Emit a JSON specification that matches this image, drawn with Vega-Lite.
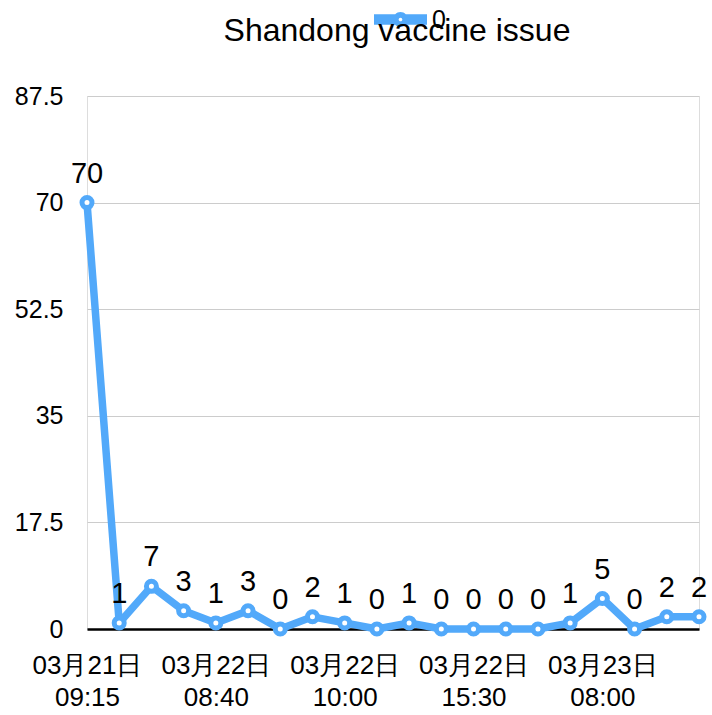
{
  "$schema": "https://vega.github.io/schema/vega-lite/v6.json",
  "autosize": {"type": "none"},
  "padding": {"left": 87, "top": 96, "right": 13, "bottom": 86},
  "width": 612,
  "height": 533,
  "background": "white",
  "title": {
    "text": "Shandong vaccine issue",
    "font": "Liberation Sans",
    "fontSize": 32,
    "fontWeight": "normal",
    "color": "black",
    "anchor": "middle",
    "frame": "group",
    "offset": 48,
    "dx": 4,
    "dy": 103
  },
  "data": {
    "values": [
      {"i": 0, "v": 70, "series": "0"},
      {"i": 1, "v": 1, "series": "0"},
      {"i": 2, "v": 7, "series": "0"},
      {"i": 3, "v": 3, "series": "0"},
      {"i": 4, "v": 1, "series": "0"},
      {"i": 5, "v": 3, "series": "0"},
      {"i": 6, "v": 0, "series": "0"},
      {"i": 7, "v": 2, "series": "0"},
      {"i": 8, "v": 1, "series": "0"},
      {"i": 9, "v": 0, "series": "0"},
      {"i": 10, "v": 1, "series": "0"},
      {"i": 11, "v": 0, "series": "0"},
      {"i": 12, "v": 0, "series": "0"},
      {"i": 13, "v": 0, "series": "0"},
      {"i": 14, "v": 0, "series": "0"},
      {"i": 15, "v": 1, "series": "0"},
      {"i": 16, "v": 5, "series": "0"},
      {"i": 17, "v": 0, "series": "0"},
      {"i": 18, "v": 2, "series": "0"},
      {"i": 19, "v": 2, "series": "0"}
    ]
  },
  "encoding": {
    "x": {
      "field": "i",
      "type": "ordinal",
      "scale": {"type": "point", "padding": 0},
      "axis": {
        "title": null,
        "values": [0, 4, 8, 12, 16],
        "labelExpr": "[['03月21日','09:15'],['03月22日','08:40'],['03月22日','10:00'],['03月22日','15:30'],['03月23日','08:00']][datum.value / 4]",
        "labelAngle": 0,
        "labelFont": "Liberation Sans",
        "labelFontSize": 26,
        "labelLineHeight": 32,
        "labelColor": "black",
        "labelPadding": 23,
        "ticks": false,
        "domain": true,
        "domainColor": "black",
        "domainWidth": 2.5,
        "grid": false
      }
    },
    "y": {
      "field": "v",
      "type": "quantitative",
      "scale": {"domain": [0, 87.5], "nice": false, "zero": true},
      "axis": {
        "title": null,
        "values": [0, 17.5, 35, 52.5, 70, 87.5],
        "format": ".1~f",
        "labelFont": "Liberation Sans",
        "labelFontSize": 25,
        "labelColor": "black",
        "labelPadding": 24,
        "ticks": false,
        "domain": false,
        "grid": true,
        "gridColor": "#cccccc",
        "gridWidth": 1
      }
    }
  },
  "layer": [
    {
      "mark": {"type": "line", "strokeWidth": 7.5, "strokeJoin": "round", "strokeCap": "round"},
      "encoding": {
        "color": {
          "field": "series",
          "type": "nominal",
          "scale": {"range": ["#52a9fa"]},
          "legend": {
            "title": null,
            "orient": "none",
            "legendX": 287,
            "legendY": -103,
            "padding": 0,
            "symbolType": "M-1,-0.2H1V0.2H-1Z M-0.28,0A0.28,0.28 0 1,1 0.28,0A0.28,0.28 0 1,1 -0.28,0Z M-0.07,0A0.07,0.07 0 1,0 0.07,0A0.07,0.07 0 1,0 -0.07,0Z M-0.07,0A0.07,0.07 0 1,0 0.07,0A0.07,0.07 0 1,0 -0.07,0Z",
            "symbolSize": 2809,
            "symbolStrokeWidth": 0,
            "labelFont": "Liberation Sans",
            "labelFontSize": 25,
            "labelColor": "black",
            "labelOffset": 5,
            "encode": {
              "symbols": {"update": {"fill": {"value": "#52a9fa"}, "stroke": {"value": "transparent"}, "strokeWidth": {"value": 0}}}
            }
          }
        }
      }
    },
    {
      "mark": {"type": "point", "filled": true, "fill": "white", "stroke": "#52a9fa", "strokeWidth": 5, "size": 100, "opacity": 1}
    },
    {
      "mark": {"type": "text", "dy": -20, "baseline": "alphabetic", "align": "center", "font": "Liberation Sans", "fontSize": 29, "color": "black"},
      "encoding": {"text": {"field": "v", "type": "quantitative"}}
    }
  ]
}
